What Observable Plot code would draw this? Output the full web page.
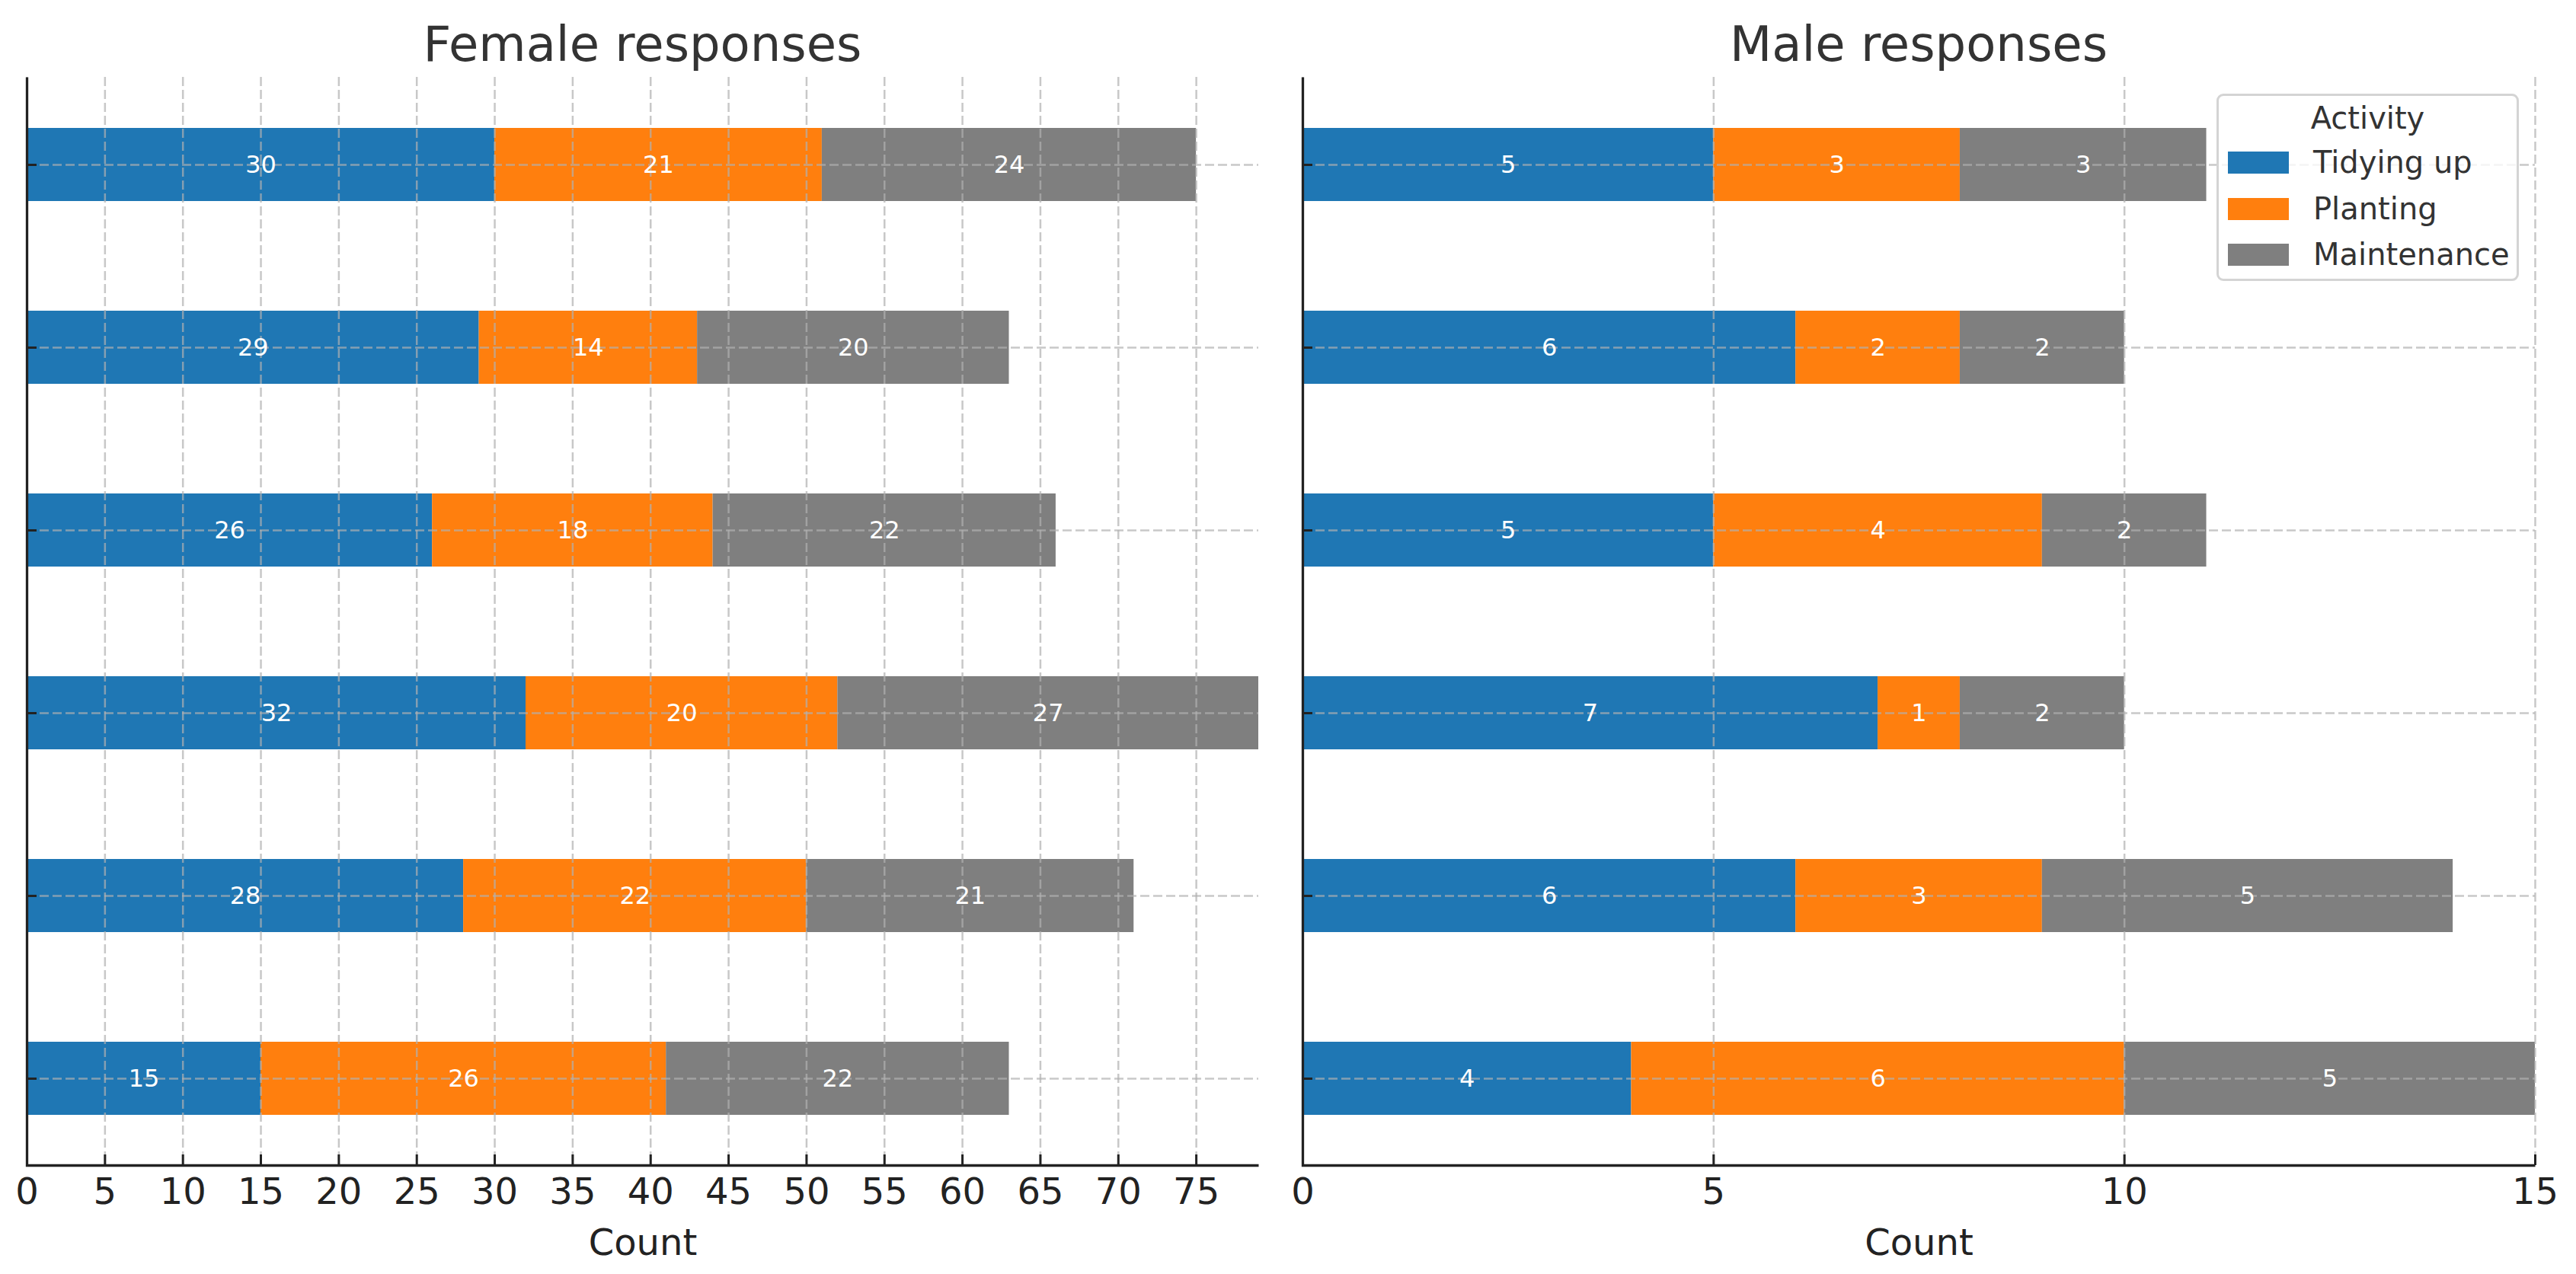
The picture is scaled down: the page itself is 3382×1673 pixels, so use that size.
<!DOCTYPE html>
<html>
<head>
<meta charset="utf-8">
<script src="https://cdn.jsdelivr.net/npm/d3@7"></script>
<script src="https://cdn.jsdelivr.net/npm/@observablehq/plot@0.6"></script>
<style>
html, body { margin: 0; padding: 0; background: #ffffff; }
#root { position: relative; width: 3382px; height: 1673px; overflow: hidden; font-family: "DejaVu Sans", sans-serif; }
.panel { position: absolute; top: 0; }
.title { height: 96px; box-sizing: border-box; padding-top: 20px; display: flex; align-items: center; justify-content: center; font-size: 64px; color: #333333; line-height: 1; white-space: nowrap; }
.legend { position: absolute; box-sizing: border-box; border: 3px solid #d4d4d4; border-radius: 9px; background: rgba(255,255,255,0.8); font-size: 40px; color: #333333; }
.legend .lt { position: absolute; left: 0; right: 0; text-align: center; line-height: 48px; }
.legend .sw { position: absolute; width: 80px; height: 29px; }
.legend .lb { position: absolute; line-height: 48px; white-space: nowrap; }
</style>
</head>
<body>
<div id="root"></div>
<script>
// ---- data ----
const groups = ["Group 1", "Group 2", "Group 3", "Group 4", "Group 5", "Group 6"]; // top to bottom (unlabelled in the chart)
const activities = ["Tidying up", "Planting", "Maintenance"];
const activityColors = ["#1f77b4", "#ff7f0e", "#7f7f7f"];

const femaleTidying     = [30, 29, 26, 32, 28, 15];
const femalePlanting    = [21, 14, 18, 20, 22, 26];
const femaleMaintenance = [24, 20, 22, 27, 21, 22];

const maleTidying       = [5, 6, 5, 7, 6, 4];
const malePlanting      = [3, 2, 4, 1, 3, 6];
const maleMaintenance   = [3, 2, 2, 2, 5, 5];

const femaleTicks = [0, 5, 10, 15, 20, 25, 30, 35, 40, 45, 50, 55, 60, 65, 70, 75];
const maleTicks = [0, 5, 10, 15];
const femaleMax = 79;
const maleMax = 15;

const titles = ["Female responses", "Male responses"];
const axisLabel = "Count";
const legendTitle = "Activity";

function buildRows(series) {
  const rows = [];
  groups.forEach((g, i) => {
    activities.forEach((a, j) => rows.push({group: g, activity: a, value: series[j][i]}));
  });
  return rows;
}
const femaleRows = buildRows([femaleTidying, femalePlanting, femaleMaintenance]);
const maleRows = buildRows([maleTidying, malePlanting, maleMaintenance]);

// ---- layout ----
const svgHeight = 1577, mTop = 5, mBottom = 143;
const root = document.getElementById("root");

function panel({title, rows, xMax, ticks, left, width, mL, mR}) {
  const W = width - mL - mR;
  const H = svgHeight - mTop - mBottom;
  const gridStyle = {stroke: "#b0b0b0", strokeOpacity: 0.7, strokeWidth: 2.5, strokeDasharray: "12,5"};
  const chart = Plot.plot({
    width, height: svgHeight,
    marginTop: mTop, marginBottom: mBottom, marginLeft: mL, marginRight: mR,
    style: {fontFamily: "DejaVu Sans", fontSize: "48px", color: "#222222", background: "transparent", overflow: "visible"},
    x: {domain: [0, xMax]},
    y: {domain: groups, paddingInner: 0.6, paddingOuter: 0.27, align: 0.5},
    color: {domain: activities, range: activityColors},
    marks: [
      Plot.barX(rows, Plot.stackX({x: "value", y: "group", fill: "activity", z: "activity"})),
      Plot.gridX(ticks, gridStyle),
      Plot.gridY(groups, gridStyle),
      Plot.text(rows, Plot.stackX({x: "value", y: "group", z: "activity", text: d => String(d.value), fill: "white", fontSize: 32})),
      Plot.frame({stroke: "#222222", strokeWidth: 3.3, strokeDasharray: `0,${W + H},${W + H}`}),
      Plot.axisX(ticks, {tickSize: -14, tickPadding: 30, strokeWidth: 3, label: axisLabel, labelAnchor: "center", labelArrow: "none", labelOffset: 117}),
      Plot.axisY({tickSize: -13, tickFormat: () => "", strokeWidth: 3, label: null})
    ]
  });
  const div = document.createElement("div");
  div.className = "panel";
  div.style.left = left + "px";
  div.style.width = width + "px";
  const t = document.createElement("div");
  t.className = "title";
  t.style.paddingLeft = mL + "px";
  t.style.paddingRight = mR + "px";
  t.textContent = title;
  div.appendChild(t);
  chart.style.display = "block";
  div.appendChild(chart);
  root.appendChild(div);
}

panel({title: titles[0], rows: femaleRows, xMax: femaleMax, ticks: femaleTicks, left: 0, width: 1680, mL: 35, mR: 28});
panel({title: titles[1], rows: maleRows, xMax: maleMax, ticks: maleTicks, left: 1680, width: 1702, mL: 30, mR: 54});

// ---- legend ----
const lg = document.createElement("div");
lg.className = "legend";
Object.assign(lg.style, {left: "2910px", top: "123px", width: "397px", height: "246px"});
const lt = document.createElement("div");
lt.className = "lt";
lt.style.top = (32 - 3 - 24) + "px";
lt.textContent = legendTitle;
lg.appendChild(lt);
const rowCenters = [90, 151, 211];
activities.forEach((a, i) => {
  const sw = document.createElement("div");
  sw.className = "sw";
  sw.style.left = (15 - 3) + "px";
  sw.style.top = (rowCenters[i] - 3 - 14.5) + "px";
  sw.style.background = activityColors[i];
  lg.appendChild(sw);
  const lb = document.createElement("div");
  lb.className = "lb";
  lb.style.left = (127 - 3) + "px";
  lb.style.top = (rowCenters[i] - 3 - 24) + "px";
  lb.textContent = a;
  lg.appendChild(lb);
});
root.appendChild(lg);
</script>
</body>
</html>
